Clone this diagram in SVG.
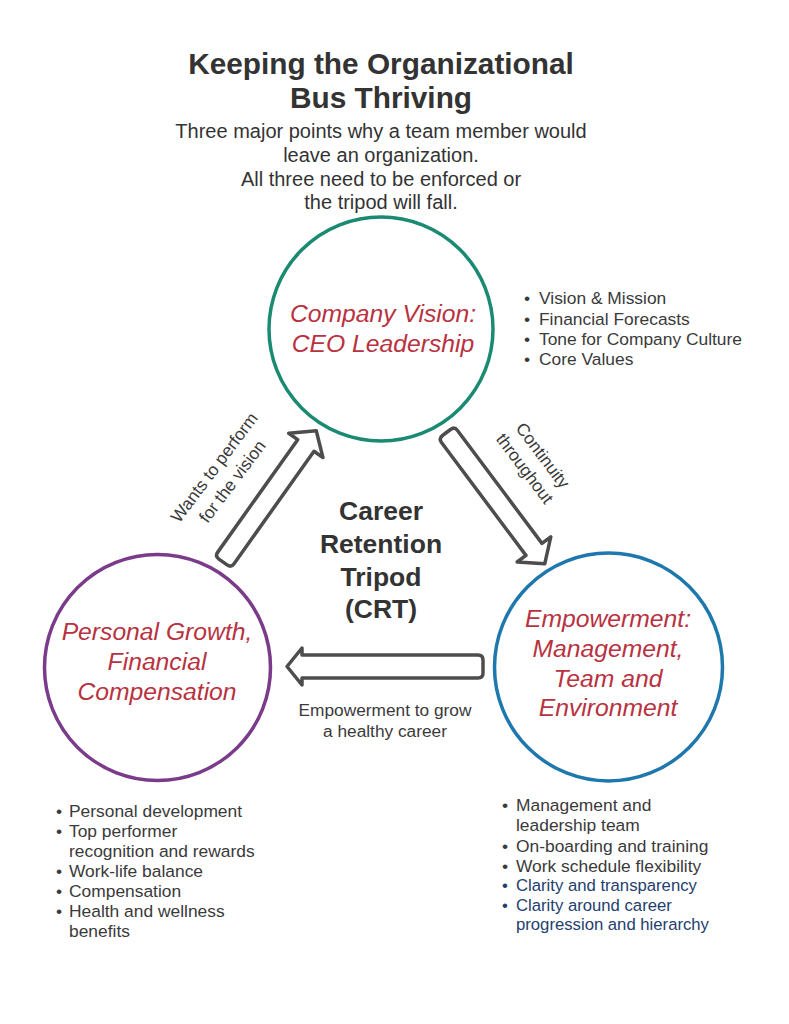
<svg xmlns="http://www.w3.org/2000/svg" width="789" height="1024" viewBox="0 0 789 1024">
<style>
text{font-family:"Liberation Sans",Arial,sans-serif;fill:#333333}
.title{font-size:29.8px;font-weight:bold;text-anchor:middle}
.sub{font-size:20px;text-anchor:middle}
.node{font-size:24.7px;font-style:italic;fill:#b8323f;text-anchor:middle}
.ring{fill:#ffffff;stroke-width:3.5}
.arrow{fill:#ffffff;stroke:#4d4d4d;stroke-width:3.5;stroke-linejoin:round}
.lbl{font-size:17.3px;text-anchor:middle;fill:#3a3a3a}
.bul{font-size:17.4px;fill:#3a3a3a}
.navy{fill:#23406e;font-size:16.7px}
.center{font-size:26.5px;font-weight:bold;text-anchor:middle}
</style>
<rect width="789" height="1024" fill="#ffffff"/>
<g id="title">
<text class="title" x="381" y="74">Keeping the Organizational</text>
<text class="title" x="381" y="108">Bus Thriving</text>
<text class="sub" x="381" y="138">Three major points why a team member would</text>
<text class="sub" x="381" y="162">leave an organization.</text>
<text class="sub" x="381" y="186">All three need to be enforced or</text>
<text class="sub" x="381" y="209">the tripod will fall.</text>
</g>
<g id="connectors">
<g id="arrow-growth-to-vision">
<path class="arrow" transform="translate(223,562) rotate(-54.6)" d="M5,-10 L143,-10 L143,-21 L161,0 L143,21 L143,10 L5,10 Q0,10 0,5 L0,-5 Q0,-10 5,-10 Z"/>
<text class="lbl" transform="translate(219,471) rotate(-53)" x="0" y="0">Wants to perform</text>
<text class="lbl" transform="translate(237,485) rotate(-53)" x="0" y="0">for the vision</text>
</g>
<g id="arrow-vision-to-empowerment">
<path class="arrow" transform="translate(446.5,432.5) rotate(53.2)" d="M5,-10 L146,-10 L146,-21 L164,0 L146,21 L146,10 L5,10 Q0,10 0,5 L0,-5 Q0,-10 5,-10 Z"/>
<text class="lbl" transform="translate(538,459) rotate(53)" x="0" y="0">Continuity</text>
<text class="lbl" transform="translate(520,472) rotate(53)" x="0" y="0">throughout</text>
</g>
<g id="arrow-empowerment-to-growth">
<path class="arrow" transform="translate(483,666.5) rotate(180)" d="M5,-11.5 L181,-11.5 L181,-18.5 L196,0 L181,18.5 L181,11.5 L5,11.5 Q0,11.5 0,6.5 L0,-6.5 Q0,-11.5 5,-11.5 Z"/>
<text class="lbl" x="385" y="716">Empowerment to grow</text>
<text class="lbl" x="385" y="737">a healthy career</text>
</g>
</g>
<g id="node-vision">
<circle class="ring" cx="381" cy="329" r="112" stroke="#1b8a73"/>
<text class="node" x="383" y="322">Company Vision:</text>
<text class="node" x="383" y="352">CEO Leadership</text>
</g>
<g id="node-growth">
<circle class="ring" cx="157.5" cy="667.5" r="113" stroke="#7a3b8a"/>
<text class="node" x="157" y="640">Personal Growth,</text>
<text class="node" x="157" y="670">Financial</text>
<text class="node" x="157" y="700">Compensation</text>
</g>
<g id="node-empowerment">
<circle class="ring" cx="608.5" cy="667" r="114" stroke="#1e78ad"/>
<text class="node" x="608" y="627">Empowerment:</text>
<text class="node" x="608" y="657">Management,</text>
<text class="node" x="608" y="687">Team and</text>
<text class="node" x="608" y="716">Environment</text>
</g>
<g id="center-label">
<text class="center" x="381" y="520">Career</text>
<text class="center" x="381" y="553">Retention</text>
<text class="center" x="381" y="586">Tripod</text>
<text class="center" x="381" y="618">(CRT)</text>
</g>
<g id="bullets-vision">
<text class="bul" x="524" y="304">•</text><text class="bul" x="539" y="304">Vision &amp; Mission</text>
<text class="bul" x="524" y="325">•</text><text class="bul" x="539" y="325">Financial Forecasts</text>
<text class="bul" x="524" y="345">•</text><text class="bul" x="539" y="345">Tone for Company Culture</text>
<text class="bul" x="524" y="365">•</text><text class="bul" x="539" y="365">Core Values</text>
</g>
<g id="bullets-growth">
<text class="bul" x="56" y="817">•</text><text class="bul" x="69" y="817">Personal development</text>
<text class="bul" x="56" y="837">•</text><text class="bul" x="69" y="837">Top performer</text>
<text class="bul" x="69" y="857">recognition and rewards</text>
<text class="bul" x="56" y="877">•</text><text class="bul" x="69" y="877">Work-life balance</text>
<text class="bul" x="56" y="897">•</text><text class="bul" x="69" y="897">Compensation</text>
<text class="bul" x="56" y="917">•</text><text class="bul" x="69" y="917">Health and wellness</text>
<text class="bul" x="69" y="937">benefits</text>
</g>
<g id="bullets-empowerment">
<text class="bul" x="502" y="811">•</text><text class="bul" x="516" y="811">Management and</text>
<text class="bul" x="516" y="831">leadership team</text>
<text class="bul" x="502" y="852">•</text><text class="bul" x="516" y="852">On-boarding and training</text>
<text class="bul" x="502" y="872">•</text><text class="bul" x="516" y="872">Work schedule flexibility</text>
<text class="bul navy" x="502" y="891">•</text><text class="bul navy" x="516" y="891">Clarity and transparency</text>
<text class="bul navy" x="502" y="911">•</text><text class="bul navy" x="516" y="911">Clarity around career</text>
<text class="bul navy" x="516" y="930">progression and hierarchy</text>
</g>
</svg>
